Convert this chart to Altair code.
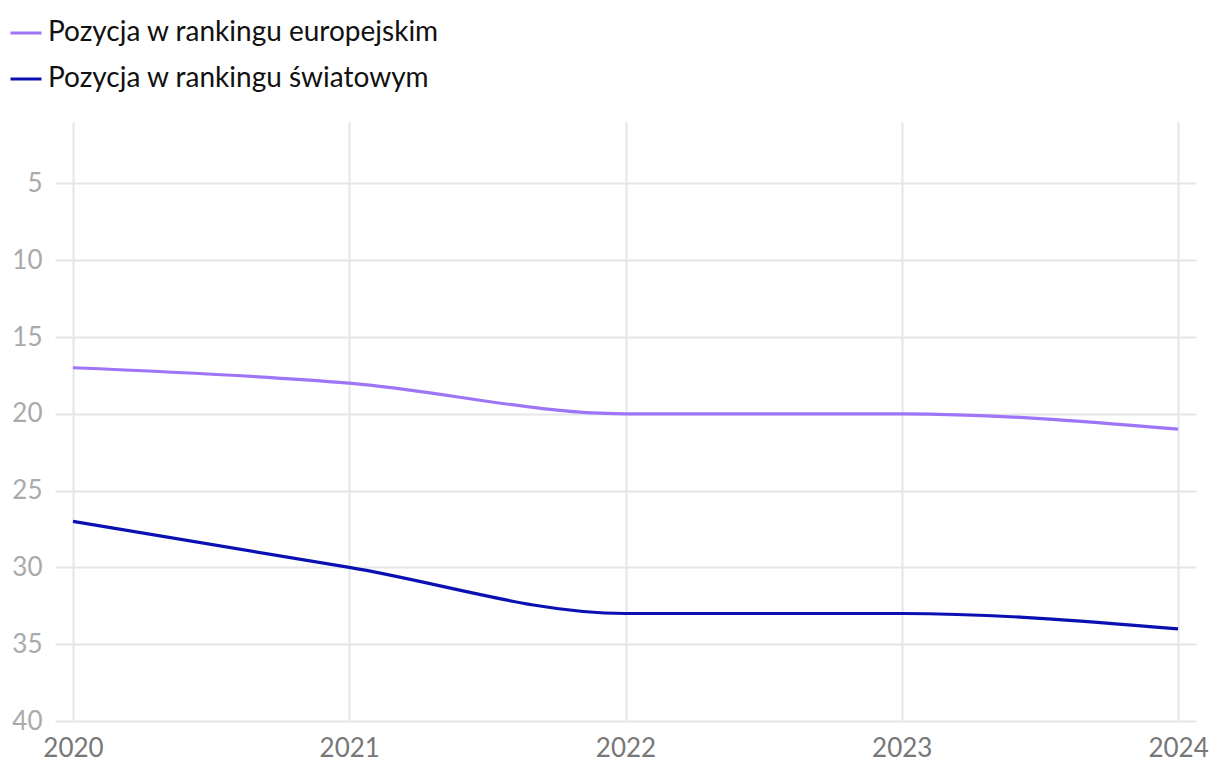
import altair as alt
import pandas as pd

years = [2020, 2021, 2022, 2023, 2024]
europe = [17, 18, 20, 20, 21]
world = [27, 30, 33, 33, 34]
series_names = ["Pozycja w rankingu europejskim", "Pozycja w rankingu światowym"]
colors = ["#9f75f8", "#0a10b2"]

rows = []
for y, e, w in zip(years, europe, world):
    rows.append({"rok": y, "seria": series_names[0], "pozycja": e})
    rows.append({"rok": y, "seria": series_names[1], "pozycja": w})
df = pd.DataFrame(rows)

chart = alt.Chart(df).mark_line(interpolate="monotone", strokeWidth=3.2).encode(
    x=alt.X("rok:Q",
            scale=alt.Scale(domain=[2019.935, 2024.065], nice=False, zero=False),
            axis=alt.Axis(values=years, format="d", title=None, tickSize=0, domain=False,
                          labelFontSize=26, labelColor="#777777", labelPadding=14,
                          gridColor="#e6e6e6", gridWidth=2, labelFlush=False)),
    y=alt.Y("pozycja:Q",
            scale=alt.Scale(domain=[1, 40], reverse=True, nice=False, zero=False),
            axis=alt.Axis(values=[5, 10, 15, 20, 25, 30, 35, 40], title=None, tickSize=0,
                          domain=False, labelFontSize=26, labelColor="#aaaaaa",
                          labelPadding=13, gridColor="#e6e6e6", gridWidth=2)),
    color=alt.Color("seria:N",
                    scale=alt.Scale(domain=series_names, range=colors),
                    legend=alt.Legend(title=None, orient="none", legendX=-46, legendY=-106,
                                      symbolType="stroke", symbolStrokeWidth=3,
                                      symbolSize=961, labelFontSize=28, labelColor="#111111",
                                      labelLimit=0, rowPadding=15, labelOffset=5,
                                      direction="vertical")),
).properties(
    width=1141,
    height=599,
    autosize=alt.AutoSizeParams(type="none"),
    padding={"left": 47, "top": 114, "right": 16, "bottom": 50},
).configure(font="Lato").configure_view(stroke=None)

chart.save("out.html", embed_options={"renderer": "svg", "actions": False})
